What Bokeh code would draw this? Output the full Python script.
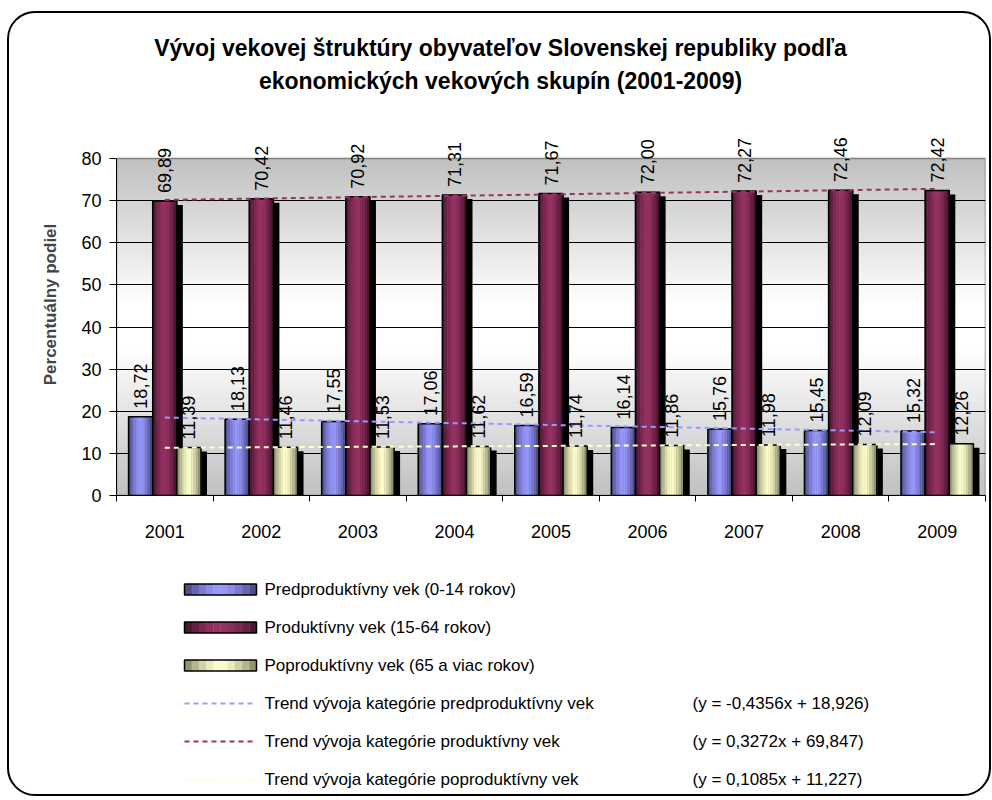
import numpy as np
from bokeh.plotting import figure
from bokeh.models import Range1d, FixedTicker, ColumnDataSource, LabelSet
from bokeh.layouts import column
from bokeh.core.properties import value
from bokeh.embed import file_html
from bokeh.resources import INLINE

# ---------------- data ----------------
years = ["2001", "2002", "2003", "2004", "2005", "2006", "2007", "2008", "2009"]
pre = [18.72, 18.13, 17.55, 17.06, 16.59, 16.14, 15.76, 15.45, 15.32]
prod = [69.89, 70.42, 70.92, 71.31, 71.67, 72.00, 72.27, 72.46, 72.42]
post = [11.39, 11.46, 11.53, 11.62, 11.74, 11.86, 11.98, 12.09, 12.26]
trend_pre = [18.49, 18.06, 17.62, 17.18, 16.75, 16.31, 15.88, 15.44, 15.01]
trend_prod = [70.17, 70.50, 70.83, 71.16, 71.48, 71.81, 72.14, 72.47, 72.79]
trend_post = [11.34, 11.44, 11.55, 11.66, 11.77, 11.88, 11.99, 12.10, 12.20]
y_ticks = [0, 10, 20, 30, 40, 50, 60, 70, 80]

title_lines = ["Vývoj vekovej štruktúry obyvateľov Slovenskej republiky podľa",
               "ekonomických vekových skupín (2001-2009)"]
y_title = "Percentuálny podiel"
bar_names = ["Predproduktívny vek (0-14 rokov)",
             "Produktívny vek (15-64 rokov)",
             "Poproduktívny vek (65 a viac rokov)"]
trend_names = ["Trend vývoja kategórie predproduktívny vek",
               "Trend vývoja kategórie produktívny vek",
               "Trend vývoja kategórie poproduktívny vek"]
trend_eqs = ["(y = -0,4356x + 18,926)",
             "(y = 0,3272x + 69,847)",
             "(y = 0,1085x + 11,227)"]

# ---------------- style ----------------
FONT = "Liberation Sans"
W = 980
H_TITLE, H_MAIN, H_LEG = 100, 432, 249
ML, MR, MB = 107, 4, 50
AREA_TOP_PX = 45          # free space above the plot area (for the value labels)
frame_w = W - ML - MR
frame_h = H_MAIN - MB
area_h = frame_h - AREA_TOP_PX

centers_col = [(153, 153, 255), (153, 51, 102), (255, 255, 204)]
edges_col = [(66, 66, 122), (64, 18, 42), (128, 128, 100)]
trend_col = ["#9999FF", "#993366", "#FFFFCC"]
K = 10


def lerp(c1, c2, t):
    return "#%02x%02x%02x" % tuple(int(round(a + (b - a) * t)) for a, b in zip(c1, c2))


def slice_colors(ci):
    out = []
    for j in range(K):
        t = abs((j + 0.5) / K * 2 - 1) ** 1.5
        out.append(lerp(centers_col[ci], edges_col[ci], t))
    return out


n = len(years)
y0, y1 = y_ticks[0], y_ticks[-1]
xr = Range1d(0, n)
yr = Range1d(y0, y1 + AREA_TOP_PX * (y1 - y0) / area_h)

p = figure(width=W, height=H_MAIN, x_range=xr, y_range=yr,
           output_backend="svg", toolbar_location=None,
           min_border_left=ML, min_border_right=MR, min_border_top=0, min_border_bottom=MB,
           border_fill_color=None, background_fill_color=None,
           outline_line_color=None)

# plot-area gradient background (gray - white - gray)
N = 200
img = np.empty((N, 1), dtype=np.uint32)
view = img.view(dtype=np.uint8).reshape((N, 1, 4))
for i in range(N):
    t = 1 - abs((i + 0.5) / N * 2 - 1)
    g = int(round(192 + 63 * min(1.0, t * 1.15)))
    view[i, 0, :] = (g, g, g, 255)
p.image_rgba(image=[img], x=xr.start, y=y0, dw=xr.end - xr.start,
             dh=y1 - y0, level="image")
# plot-area border
p.quad(left=[xr.start], right=[xr.end], bottom=[y0], top=[y1], fill_color=None,
       line_color="#808080", line_width=1.5, level="underlay")

bw = 0.25
offsets = [-0.25, 0.0, 0.25]
dx = 6.0 * n / frame_w
dy = 4.0 * (y1 - y0) / area_h
series = [pre, prod, post]
label_fmt = lambda v: ("%.2f" % v).replace(".", ",")

for si, vals in enumerate(series):
    xs = [i + 0.5 + offsets[si] for i in range(n)]
    # shadow
    p.vbar(x=[x + dx for x in xs], width=bw, top=[v - dy for v in vals], bottom=0,
           fill_color="black", line_color=None)
    # gradient slices
    cols = slice_colors(si)
    sx, st, sc = [], [], []
    for i, x in enumerate(xs):
        for j in range(K):
            sx.append(x + (j + 0.5 - K / 2) * bw / K)
            st.append(vals[i])
            sc.append(cols[j])
    src = ColumnDataSource(dict(x=sx, top=st, color=sc))
    p.vbar(x="x", top="top", bottom=0, width=bw / K * 1.05, source=src,
           fill_color="color", line_color="color", line_width=0.5)
    # outline
    p.vbar(x=xs, width=bw, top=vals, bottom=0, fill_color=None,
           line_color="black", line_width=1.5)

trends = [trend_pre, trend_prod, trend_post]
for si, tv in enumerate(trends):
    p.line(x=[i + 0.5 for i in range(n)], y=tv, line_color=trend_col[si],
           line_width=2, line_dash="5 4")

# data labels
for si, vals in enumerate(series):
    xs = [i + 0.5 + offsets[si] for i in range(n)]
    p.text(x=xs, y=vals, text=[label_fmt(v) for v in vals], angle=np.pi / 2,
           text_align="left", text_baseline="middle", y_offset=-8,
           text_font=value(FONT), text_font_size="18px", text_color="black")

# axes
p.xgrid.visible = False
p.ygrid.grid_line_color = "black"
p.ygrid.grid_line_width = 1
p.ygrid.ticker = FixedTicker(ticks=y_ticks[1:-1])

p.xaxis.ticker = FixedTicker(ticks=[i + 0.5 for i in range(n)],
                             minor_ticks=list(range(n + 1)))
p.xaxis.major_label_overrides = {i + 0.5: years[i] for i in range(n)}
p.xaxis.major_tick_line_color = None
p.xaxis.major_tick_out = 0
p.xaxis.major_tick_in = 0
p.xaxis.minor_tick_line_color = "black"
p.xaxis.minor_tick_out = 6
p.xaxis.minor_tick_in = 0
p.xaxis.major_label_standoff = 23
p.xaxis.axis_line_color = "black"

p.yaxis.bounds = (y0, y1)
p.yaxis.ticker = FixedTicker(ticks=y_ticks)
p.yaxis.major_tick_out = 7
p.yaxis.major_tick_in = 0
p.yaxis.minor_tick_line_color = None
p.yaxis.major_label_standoff = 8
p.yaxis.axis_line_color = "black"
p.yaxis.axis_label = y_title
p.yaxis.axis_label_text_font_style = "bold"
p.yaxis.axis_label_text_font_size = "17px"
p.yaxis.axis_label_text_font = FONT
p.yaxis.axis_label_standoff = 18

for ax in (p.xaxis, p.yaxis):
    ax.major_label_text_font = FONT
    ax.major_label_text_font_size = "18px"
    ax.major_label_text_color = "black"


def blank_fig(h):
    f = figure(width=W, height=h, x_range=Range1d(ML, W - MR), y_range=Range1d(h, 0),
               output_backend="svg", toolbar_location=None,
               x_axis_location=None, y_axis_location=None,
               min_border_left=ML, min_border_right=MR, min_border_top=0, min_border_bottom=0,
               border_fill_color=None, background_fill_color=None, outline_line_color=None)
    f.grid.visible = False
    return f


# ---------------- title figure ----------------
t = blank_fig(H_TITLE)
t.add_layout(LabelSet(x="x", y="y", text="t",
                      source=ColumnDataSource(dict(x=[491, 491], y=[34, 67], t=title_lines)),
                      text_align="center", text_baseline="middle", text_font=value(FONT),
                      text_font_style="bold", text_font_size="23px", text_color="black"))

# ---------------- legend figure ----------------
lg = blank_fig(H_LEG)
row0, step = 44, 38
sw_x0, sw_x1, sw_h = 175, 247, 11
text_x, eq_x = 255, 683
lab_x, lab_y, lab_t = [], [], []
for k in range(3):
    yc = row0 + step * k
    cols = slice_colors(k)
    w = (sw_x1 - sw_x0) / K
    lg.quad(left=[sw_x0 + j * w for j in range(K)],
            right=[sw_x0 + (j + 1) * w + 0.3 for j in range(K)],
            top=[yc - sw_h / 2] * K, bottom=[yc + sw_h / 2] * K,
            fill_color=cols, line_color=None)
    lg.quad(left=[sw_x0], right=[sw_x1], top=[yc - sw_h / 2], bottom=[yc + sw_h / 2],
            fill_color=None, line_color="black", line_width=1.5)
    lab_x.append(text_x); lab_y.append(yc); lab_t.append(bar_names[k])
for k in range(3):
    yc = row0 + step * (k + 3)
    lg.line(x=[sw_x0, sw_x1], y=[yc, yc], line_color=trend_col[k], line_width=2,
            line_dash="5 4")
    lab_x += [text_x, eq_x]; lab_y += [yc, yc]; lab_t += [trend_names[k], trend_eqs[k]]
lg.add_layout(LabelSet(x="x", y="y", text="t",
                       source=ColumnDataSource(dict(x=lab_x, y=lab_y, t=lab_t)),
                       text_baseline="middle", text_font=value(FONT),
                       text_font_size="17px", text_color="black"))

layout = column(t, p, lg, spacing=0,
                styles={"border": "2px solid black", "border-radius": "28px",
                        "background-color": "white", "overflow": "hidden",
                        "margin": "11px 0 0 7px"})

open("out.html", "w").write(file_html(layout, INLINE))
